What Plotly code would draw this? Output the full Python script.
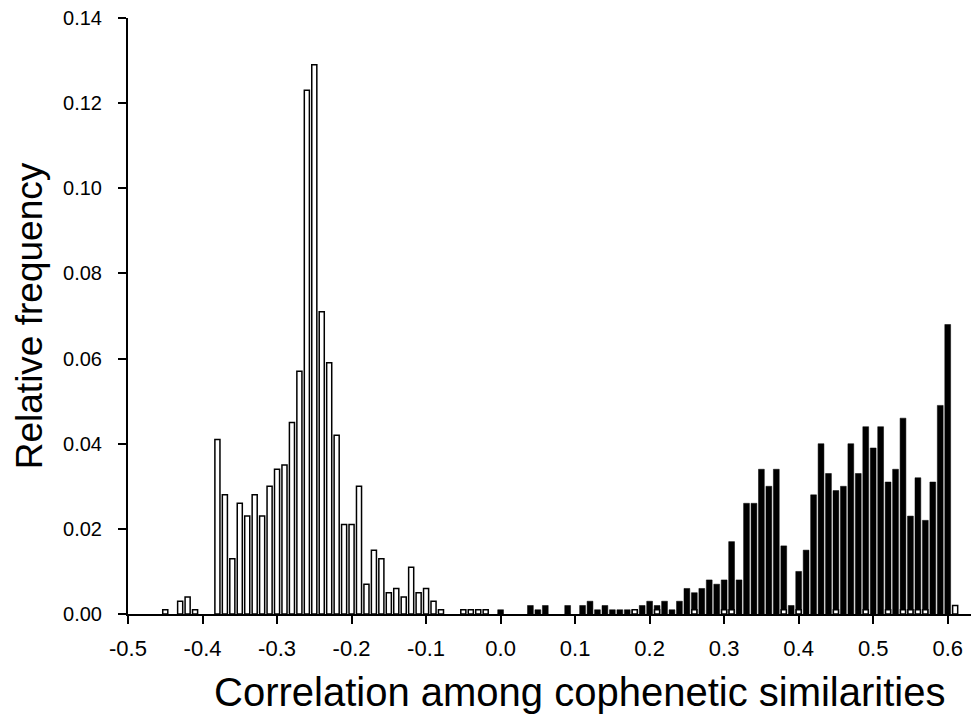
import plotly.graph_objects as go

# Open (white) histogram: bin centres and relative frequencies
white_x = [-0.45, -0.43, -0.42, -0.41,
           -0.38, -0.37, -0.36, -0.35, -0.34, -0.33, -0.32, -0.31, -0.30, -0.29,
           -0.28, -0.27, -0.26, -0.25, -0.24, -0.23, -0.22, -0.21, -0.20, -0.19,
           -0.18, -0.17, -0.16, -0.15, -0.14, -0.13, -0.12, -0.11, -0.10, -0.09,
           -0.08, -0.05, -0.04, -0.03, -0.02,
           0.18, 0.21, 0.26, 0.30, 0.31, 0.38, 0.40, 0.45, 0.49, 0.52, 0.54,
           0.55, 0.56, 0.57, 0.61, 0.64]
white_y = [0.001, 0.003, 0.004, 0.001,
           0.041, 0.028, 0.013, 0.026, 0.023, 0.028, 0.023, 0.030, 0.034, 0.035,
           0.045, 0.057, 0.123, 0.129, 0.071, 0.059, 0.042, 0.021, 0.021, 0.030,
           0.007, 0.015, 0.013, 0.005, 0.006, 0.004, 0.011, 0.005, 0.006, 0.003,
           0.001, 0.001, 0.001, 0.001, 0.001,
           0.001, 0.001, 0.001, 0.001, 0.001, 0.001, 0.001, 0.001, 0.001, 0.001, 0.001,
           0.001, 0.001, 0.001, 0.002, 0.001]

# Filled (black) histogram
black_x = [0.00, 0.04, 0.05, 0.06, 0.09, 0.11, 0.12, 0.13, 0.14, 0.15, 0.16,
           0.17, 0.18, 0.19, 0.20, 0.21, 0.22, 0.23, 0.24, 0.25, 0.26, 0.27,
           0.28, 0.29, 0.30, 0.31, 0.32, 0.33, 0.34, 0.35, 0.36, 0.37, 0.38,
           0.39, 0.40, 0.41, 0.42, 0.43, 0.44, 0.45, 0.46, 0.47, 0.48, 0.49,
           0.50, 0.51, 0.52, 0.53, 0.54, 0.55, 0.56, 0.57, 0.58, 0.59, 0.60]
black_y = [0.001, 0.002, 0.001, 0.002, 0.002, 0.002, 0.003, 0.001, 0.002, 0.001, 0.001,
           0.001, 0.001, 0.002, 0.003, 0.002, 0.003, 0.001, 0.003, 0.006, 0.005, 0.006,
           0.008, 0.007, 0.008, 0.017, 0.008, 0.026, 0.026, 0.034, 0.030, 0.034, 0.016,
           0.002, 0.010, 0.015, 0.028, 0.040, 0.033, 0.029, 0.030, 0.040, 0.033, 0.044,
           0.039, 0.044, 0.031, 0.034, 0.046, 0.023, 0.032, 0.022, 0.031, 0.049, 0.068]

x_ticks = [-0.5, -0.4, -0.3, -0.2, -0.1, 0.0, 0.1, 0.2, 0.3, 0.4, 0.5, 0.6]
x_tick_labels = ["-0.5", "-0.4", "-0.3", "-0.2", "-0.1", "0.0", "0.1", "0.2", "0.3", "0.4", "0.5", "0.6"]
y_ticks = [0.00, 0.02, 0.04, 0.06, 0.08, 0.10, 0.12, 0.14]
y_tick_labels = ["0.00", "0.02", "0.04", "0.06", "0.08", "0.10", "0.12", "0.14"]

x_title = "Correlation among cophenetic similarities"
y_title = "Relative frequency"

FONT = "Liberation Sans, Arial, Helvetica, sans-serif"

fig = go.Figure()
fig.add_trace(go.Bar(
    x=black_x, y=black_y, width=0.0078,
    marker=dict(color="black", line=dict(color="black", width=0.5)),
    showlegend=False,
))
fig.add_trace(go.Bar(
    x=white_x, y=white_y, width=0.0068,
    marker=dict(color="white", line=dict(color="black", width=1.5)),
    showlegend=False,
))

# page has an 8px body margin, so the figure is sized/offset to compensate
fig.update_layout(
    width=971, height=708,
    margin=dict(l=120, r=0, t=10, b=102),
    paper_bgcolor="white", plot_bgcolor="white",
    barmode="overlay",
    font=dict(family=FONT, color="black"),
    xaxis=dict(
        range=[-0.5, 0.642], automargin=False,
        tickmode="array", tickvals=x_ticks, ticktext=x_tick_labels,
        showgrid=False, zeroline=False,
        showline=True, linecolor="black", linewidth=2,
        ticks="outside", ticklen=8, tickwidth=2, tickcolor="black",
        tickfont=dict(size=22, family=FONT), ticklabelstandoff=6,
        ticklabeloverflow="allow",
    ),
    yaxis=dict(
        range=[0, 0.14], automargin=False,
        tickmode="array", tickvals=y_ticks, ticktext=y_tick_labels,
        showgrid=False, zeroline=False,
        showline=True, linecolor="black", linewidth=2,
        ticks="outside", ticklen=8, tickwidth=2, tickcolor="black",
        tickfont=dict(size=20, family=FONT), ticklabelstandoff=12,
        ticklabeloverflow="allow",
        title=dict(text=y_title, font=dict(size=37, family=FONT), standoff=9),
    ),
    annotations=[dict(
        text=x_title, xref="paper", yref="paper",
        x=0.531, y=-0.131, xanchor="center", yanchor="middle",
        showarrow=False, font=dict(size=40, family=FONT),
    )],
)

fig.write_html("out.html")
